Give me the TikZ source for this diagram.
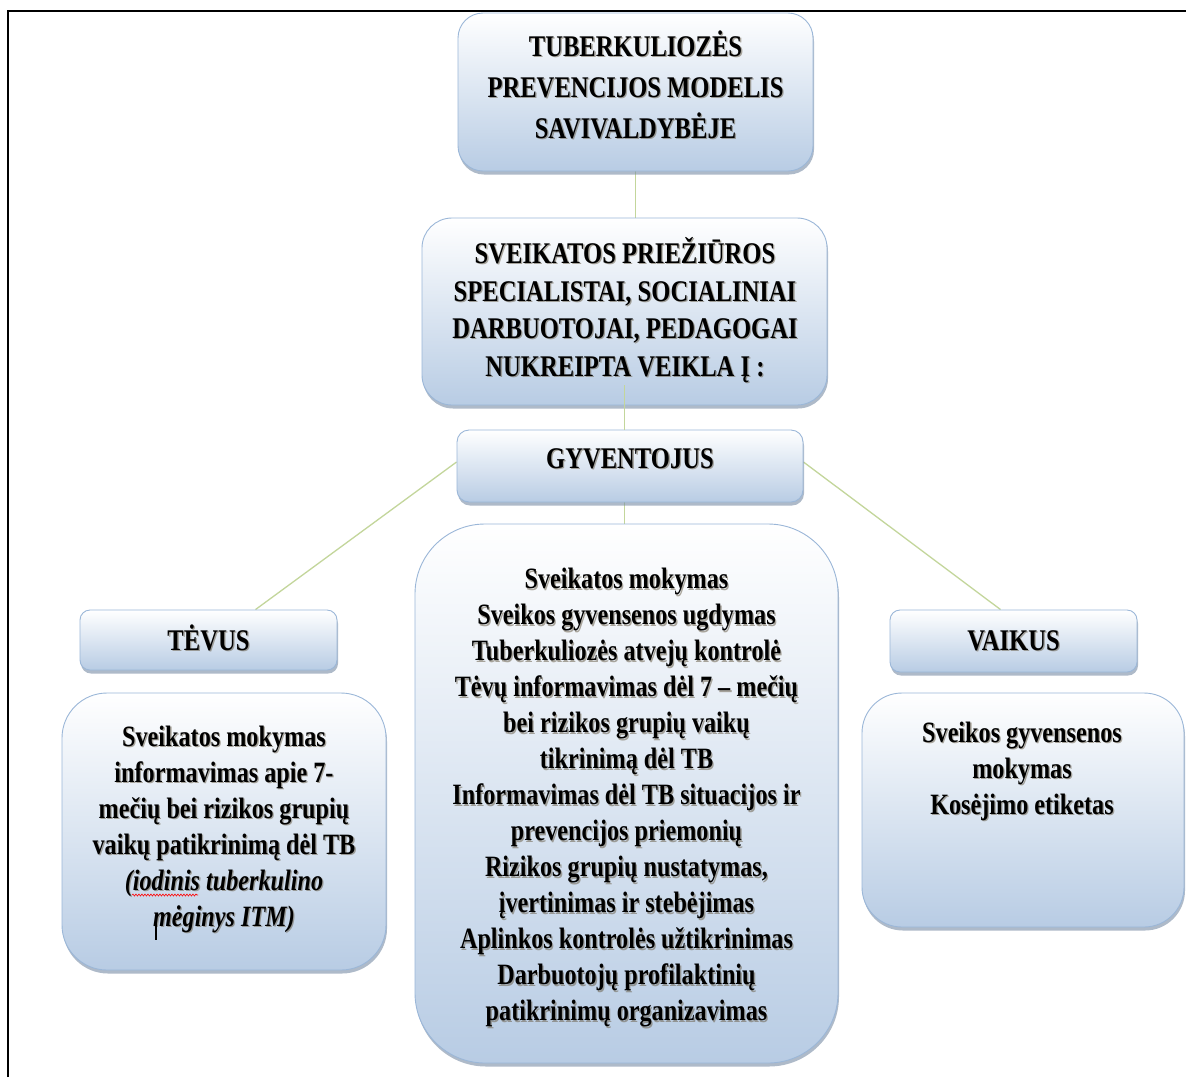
\documentclass[tikz,border=0pt]{standalone}
\usepackage{fontspec}
\setmainfont{Liberation Serif}[FakeStretch=0.82]
\usetikzlibrary{shadows,decorations.pathmorphing}
\definecolor{boxblue}{RGB}{184,204,228}
\definecolor{boxline}{RGB}{155,183,216}
\definecolor{boxshadow}{RGB}{120,140,165}
\definecolor{conngreen}{RGB}{195,214,155}
\definecolor{txtshadow}{RGB}{110,100,80}
\pgfdeclarelayer{bg}
\pgfdeclarelayer{paper}
\pgfsetlayers{paper,bg,main}
\newcommand{\shtext}[4]{%
  \node[#3, text=txtshadow, opacity=0.55, xshift=1.3pt, yshift=-1.3pt] (#1-sh) at #2 {#4};
  \node[#3] (#1) at #2 {#4};}
\begin{document}
\begin{tikzpicture}[x=1pt,y=-1pt,
  box/.style={draw=boxline, line width=0.9pt, top color=white, bottom color=boxblue,
    inner sep=0pt, drop shadow={shadow xshift=1pt, shadow yshift=-3.5pt, fill=boxshadow, opacity=0.6}},
  conn/.style={draw=conngreen, line width=1.3pt},
  head/.style={font=\bfseries\fontsize{30}{41}\selectfont, align=center, inner sep=0pt},
  head2/.style={font=\bfseries\fontsize{30}{37.5}\selectfont, align=center, inner sep=0pt},
  headb/.style={head, anchor=base},
  body/.style={font=\bfseries\fontsize{29.5}{36}\selectfont, align=center, inner sep=0pt}]
\useasboundingbox (0,0) rectangle (1186,1077);
\begin{pgfonlayer}{paper}
\fill[white] (0,0) rectangle (1186,1077);
\end{pgfonlayer}
\draw[line width=2.5pt] (8,1077) -- (8,11) -- (1186,11);

% boxes
\node[box, minimum width=355pt, minimum height=158pt, rounded corners=25pt] (topbox) at (635.5,92) {};
\node[box, minimum width=405pt, minimum height=187pt, rounded corners=30pt] (staff) at (624.5,311.5) {};
\node[box, minimum width=346pt, minimum height=72pt, rounded corners=12pt] (gyv) at (630,466) {};
\node[box, minimum width=257pt, minimum height=60pt, rounded corners=10pt] (tevus) at (208.5,640) {};
\node[box, minimum width=247pt, minimum height=62pt, rounded corners=10pt] (vaikus) at (1013.5,641) {};
\node[box, minimum width=324pt, minimum height=277pt, rounded corners=45pt] (leftbox) at (224,831.5) {};
\node[box, minimum width=423pt, minimum height=539pt, rounded corners=70pt] (midbox) at (626.5,793.5) {};
\node[box, minimum width=322pt, minimum height=234pt, rounded corners=40pt] (rightbox) at (1023,810) {};

% connectors
\begin{pgfonlayer}{bg}
\draw[conn] (topbox.south) -- (topbox.south |- staff.north);
\draw[conn] (staff.south |- gyv.south) -- (staff.south |- midbox.north);
\draw[conn] ([yshift=4pt]gyv.west) -- ([xshift=47pt]tevus.north);
\draw[conn] ([yshift=4pt]gyv.east) -- ([xshift=-13pt]vaikus.north);
\end{pgfonlayer}
\draw[conn] ([yshift=20pt]staff.south) -- (staff.south |- gyv.north);

% texts
\shtext{toptext}{(635.5,85)}{head}{TUBERKULIOZĖS\\PREVENCIJOS MODELIS\\SAVIVALDYBĖJE}
\shtext{stafftext}{(625,310)}{head2}{SVEIKATOS PRIEŽIŪROS\\SPECIALISTAI, SOCIALINIAI\\DARBUOTOJAI, PEDAGOGAI\\NUKREIPTA VEIKLA Į :}
\shtext{gyvtext}{(630,468)}{headb}{GYVENTOJUS}
\shtext{tevustext}{(208.5,650)}{headb}{TĖVUS}
\shtext{vaikustext}{(1013.5,650)}{headb}{VAIKUS}
\shtext{lefttext}{(224,829)}{body}{Sveikatos mokymas\\informavimas apie 7-\\mečių bei rizikos grupių\\vaikų patikrinimą dėl TB\\\textit{(iodinis tuberkulino}\\\textit{mėginys ITM)}}
\shtext{midtext}{(626.5,798)}{body}{Sveikatos mokymas\\Sveikos gyvensenos ugdymas\\Tuberkuliozės atvejų kontrolė\\Tėvų informavimas dėl 7 – mečių\\bei rizikos grupių vaikų\\tikrinimą dėl TB\\Informavimas dėl TB situacijos ir\\prevencijos priemonių\\Rizikos grupių nustatymas,\\įvertinimas ir stebėjimas\\Aplinkos kontrolės užtikrinimas\\Darbuotojų profilaktinių\\patikrinimų organizavimas}
\shtext{righttext}{(1022,771)}{body}{Sveikos gyvensenos\\mokymas\\Kosėjimo etiketas}

% spell-check squiggle and text cursor
\draw[red, line width=0.6pt, decorate, decoration={snake, amplitude=1pt, segment length=3pt}] (132,895) -- (198,895);
\draw[line width=2pt] (156,915) -- (156,940);
\end{tikzpicture}
\end{document}
